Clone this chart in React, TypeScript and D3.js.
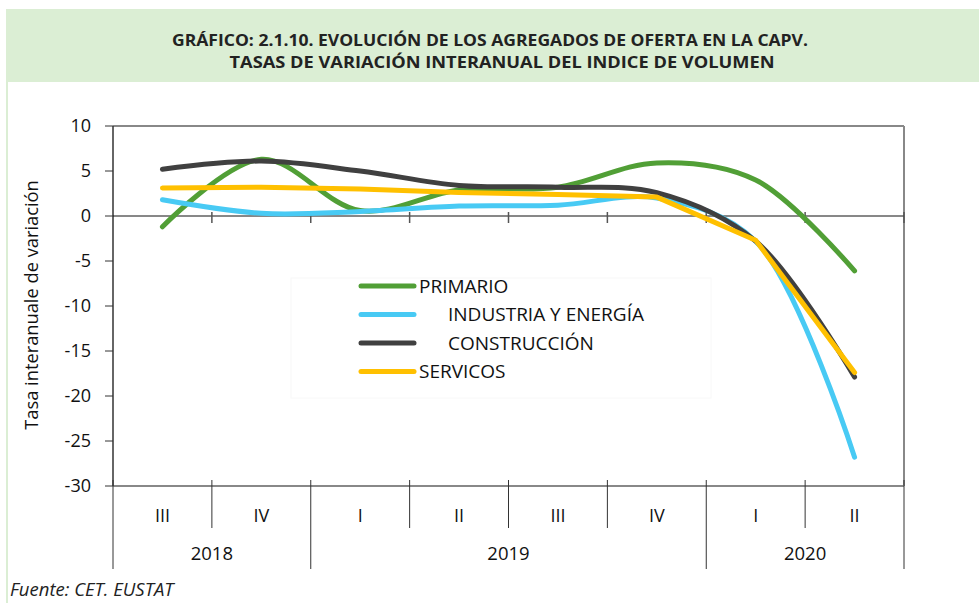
import * as d3 from "d3";

const quarters = ["III", "IV", "I", "II", "III", "IV", "I", "II"];
const years = ["2018", "2019", "2020"];
const yearSpans = [2, 4, 2];
const yTicks = [10, 5, 0, -5, -10, -15, -20, -25, -30];

const seriesNames = ["PRIMARIO", "INDUSTRIA Y ENERGÍA", "CONSTRUCCIÓN", "SERVICOS"];
const primario = [-1.2, 6.3, 0.6, 2.9, 3.2, 5.9, 4.0, -6.1];
const industria = [1.8, 0.3, 0.5, 1.1, 1.2, 2.0, -2.8, -26.8];
const construccion = [5.2, 6.1, 5.0, 3.4, 3.2, 2.6, -2.8, -17.9];
const servicios = [3.1, 3.2, 3.0, 2.6, 2.4, 2.1, -2.7, -17.4];

const W = 979;
const H = 603;
const font = "'Open Sans', 'Noto Sans', sans-serif";

export default function App() {
  const left = 113;
  const right = 904;
  const top = 126;
  const bottom = 486;

  const x = d3
    .scaleBand<number>()
    .domain(d3.range(quarters.length))
    .range([left, right])
    .paddingInner(0)
    .paddingOuter(0);
  const cx = (i: number) => (x(i) ?? 0) + x.bandwidth() / 2;

  const y = d3.scaleLinear().domain([-30, 10]).range([bottom, top]);

  const series = [
    { name: seriesNames[0], values: primario, color: "#519f36", curve: d3.curveCatmullRom, indent: 0 },
    { name: seriesNames[1], values: industria, color: "#48caf4", curve: d3.curveCatmullRom, indent: 29 },
    { name: seriesNames[2], values: construccion, color: "#404040", curve: d3.curveCatmullRom, indent: 29 },
    { name: seriesNames[3], values: servicios, color: "#ffc000", curve: d3.curveLinear, indent: 0 },
  ];

  // boundaries between quarters and years
  const bounds = d3.range(quarters.length + 1).map((i) => left + i * x.bandwidth());
  const yearBounds = [0, ...d3.cumsum(yearSpans)];
  const isYearBound = (i: number) => yearBounds.includes(i);

  return (
    <>
      <style>{"body{margin:0}"}</style>
      <svg width={W} height={H} style={{ display: "block", fontFamily: font }}>
        <rect width={W} height={H} fill="#fff" />
        {/* title band and frame */}
        <rect x={6} y={9} width={W - 6} height={73} fill="#dbeed4" />
        <rect x={6} y={82} width={2} height={H - 82} fill="#dbeed4" />
        <text x={490} y={46} textAnchor="middle" fontSize={16.5} fontWeight="bold" fill="#222"
          textLength={636} lengthAdjust="spacingAndGlyphs">
          GRÁFICO: 2.1.10. EVOLUCIÓN DE LOS AGREGADOS DE OFERTA EN LA CAPV.
        </text>
        <text x={502} y={68} textAnchor="middle" fontSize={16.5} fontWeight="bold" fill="#222"
          textLength={545} lengthAdjust="spacingAndGlyphs">
          TASAS DE VARIACIÓN INTERANUAL DEL INDICE DE VOLUMEN
        </text>

        {/* plot frame */}
        <line x1={left} x2={right} y1={top} y2={top} stroke="#888" strokeWidth={2} />
        <line x1={right} x2={right} y1={top} y2={bottom} stroke="#888" strokeWidth={2} />
        <line x1={left} x2={right} y1={bottom} y2={bottom} stroke="#888" strokeWidth={2} />

        {/* y axis */}
        <line x1={left} x2={left} y1={top} y2={bottom} stroke="#333" strokeWidth={1.5} />
        {yTicks.map((t) => (
          <g key={t}>
            <line x1={left - 8} x2={left} y1={y(t)} y2={y(t)} stroke="#333" />
            <text x={91} y={y(t)} dy="0.35em" textAnchor="end" fontSize={18} fill="#111">
              {t}
            </text>
          </g>
        ))}
        <text
          transform={`translate(32,${(top + bottom) / 2 - 1}) rotate(-90)`}
          textAnchor="middle"
          dy="0.35em"
          fontSize={18.3}
          fill="#111"
        >
          Tasa interanuale de variación
        </text>

        {/* zero line with ticks */}
        <line x1={left} x2={right} y1={y(0)} y2={y(0)} stroke="#111" strokeWidth={1} />
        {bounds.slice(1).map((b, i) => (
          <line key={i} x1={b} x2={b} y1={y(0) - 4} y2={y(0) + 7} stroke="#555" strokeWidth={1.5} />
        ))}

        {/* category axis */}
        {bounds.map((b, i) => (
          <line
            key={i}
            x1={b}
            x2={b}
            y1={bottom - 6}
            y2={isYearBound(i) ? 569 : 528}
            stroke="#333"
            strokeWidth={1}
          />
        ))}
        {quarters.map((q, i) => (
          <text key={i} x={cx(i)} y={516} dy="0.35em" textAnchor="middle" fontSize={18} fill="#111">
            {q}
          </text>
        ))}
        {years.map((yr, i) => {
          const a = bounds[yearBounds[i]];
          const b = bounds[yearBounds[i + 1]];
          return (
            <text key={yr} x={(a + b) / 2} y={554} dy="0.35em" textAnchor="middle" fontSize={18.5} fill="#111">
              {yr}
            </text>
          );
        })}

        {/* series */}
        {series.map((s) => {
          const line = d3
            .line<number>()
            .x((_, i) => cx(i))
            .y((d) => y(d))
            .curve(s.curve);
          return (
            <path
              key={s.name}
              d={line(s.values) ?? undefined}
              fill="none"
              stroke={s.color}
              strokeWidth={5}
              strokeLinecap="round"
              strokeLinejoin="round"
            />
          );
        })}

        {/* legend */}
        <rect x={291} y={278} width={420} height={120} fill="#fff" fillOpacity={0.6} stroke="#f8f8f8" />
        {series.map((s, i) => {
          const ly = 286 + i * 28.5;
          return (
            <g key={s.name}>
              <line x1={361} x2={414} y1={ly} y2={ly} stroke={s.color} strokeWidth={5} strokeLinecap="round" />
              <text x={419 + s.indent} y={ly} dy="0.35em" fontSize={19} fill="#111">
                {s.name}
              </text>
            </g>
          );
        })}

        <text x={10} y={596} fontSize={18.5} fontStyle="italic" fill="#222">
          Fuente: CET. EUSTAT
        </text>
      </svg>
    </>
  );
}
